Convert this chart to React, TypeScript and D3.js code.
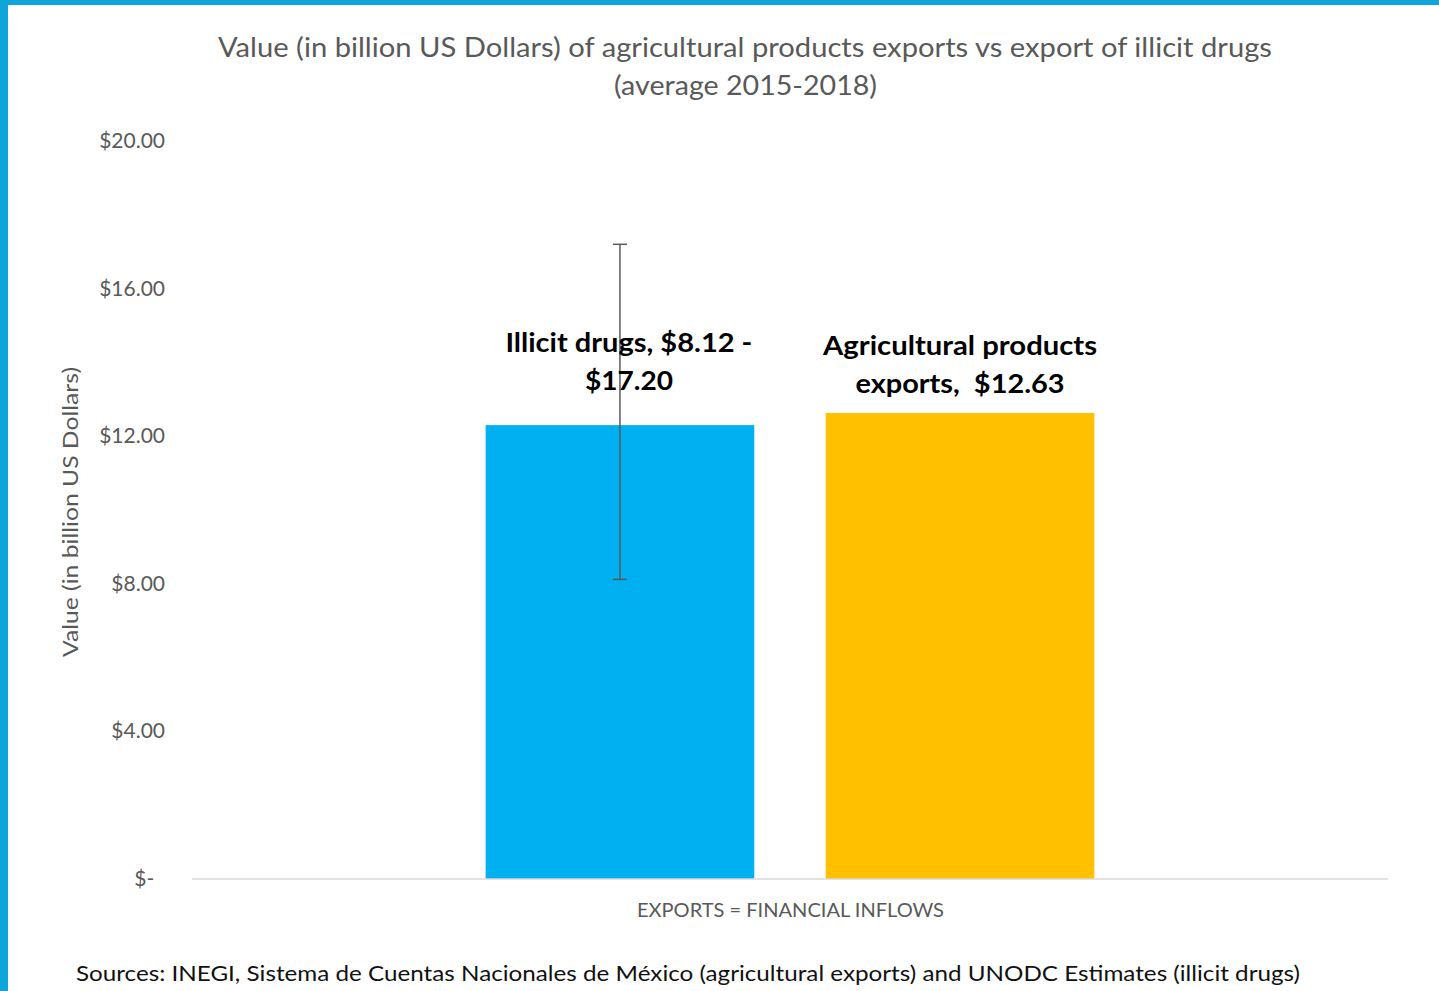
import React from "react";
import * as d3 from "d3";

const categories = ["Illicit drugs", "Agricultural products exports"];
const barValues = [12.3, 12.63];
const errorLow = [8.12, null];
const errorHigh = [17.2, null];
const labelLines = [
  ["Illicit drugs, $8.12 -", "$17.20"],
  ["Agricultural products", "exports,  $12.63"],
];
const barColors = ["#00B0F0", "#FFC000"];
const yTicks = [0, 4, 8, 12, 16, 20];
const tickLabels = ["$-  ", "$4.00", "$8.00", "$12.00", "$16.00", "$20.00"];
const titleLines = [
  "Value (in billion US Dollars) of agricultural products exports vs export of illicit drugs",
  "(average 2015-2018)",
];
const yAxisTitle = "Value (in billion US Dollars)";
const xAxisTitle = "EXPORTS = FINANCIAL INFLOWS";
const sourceText =
  "Sources: INEGI, Sistema de Cuentas Nacionales de México (agricultural exports) and UNODC Estimates (illicit drugs)";

const W = 1439;
const H = 991;
const FONT = "Lato, 'Open Sans', sans-serif";
const GRAY = "#595959";

export default function App() {
  const x = d3
    .scaleBand<string>()
    .domain(categories)
    .range([192, 1388])
    .paddingInner(0.21)
    .paddingOuter(0.8634);
  const y = d3.scaleLinear().domain([0, 20]).range([879, 141]);
  const bw = x.bandwidth();
  const labelDx = [9, 0];
  const labelGap = [35, 20];
  const labelWidths = [
    [247, 88],
    [274, 209],
  ];

  return (
    <svg
      width={W}
      height={H}
      style={{ position: "absolute", left: 0, top: 0, background: "#fff" }}
      fontFamily={FONT}
    >
      <rect x={0} y={0} width={W} height={H} fill="#fff" />
      {/* title */}
      <text x={745} y={57} textAnchor="middle" fontSize={27} fill={GRAY} textLength={1054} lengthAdjust="spacingAndGlyphs">
        {titleLines[0]}
      </text>
      <text x={745.5} y={95} textAnchor="middle" fontSize={27} fill={GRAY} textLength={263} lengthAdjust="spacingAndGlyphs">
        {titleLines[1]}
      </text>

      {/* y tick labels */}
      {yTicks.map((t, i) => (
        <text key={t} x={165} y={y(t) + 7} textAnchor="end" fontSize={21} fill={GRAY} style={{ whiteSpace: "pre" }}>
          {tickLabels[i]}
        </text>
      ))}

      {/* y axis title */}
      <text
        transform={`translate(78, 512) rotate(-90)`}
        textAnchor="middle"
        fontSize={22}
        fill={GRAY}
        textLength={290}
        lengthAdjust="spacingAndGlyphs"
      >
        {yAxisTitle}
      </text>

      {/* bars */}
      {categories.map((c, i) => (
        <rect key={c} x={x(c)} y={y(barValues[i])} width={bw} height={y(0) - y(barValues[i])} fill={barColors[i]} />
      ))}

      {/* baseline */}
      <line x1={192} x2={1388} y1={y(0)} y2={y(0)} stroke="#D9D9D9" strokeWidth={1.5} />

      {/* error bars */}
      {categories.map((c, i) => {
        const lo = errorLow[i];
        const hi = errorHigh[i];
        if (lo == null || hi == null) return null;
        const cx = (x(c) as number) + bw / 2;
        return (
          <g key={c} stroke={GRAY} strokeWidth={1.5}>
            <line x1={cx} x2={cx} y1={y(hi)} y2={y(lo)} />
            <line x1={cx - 7} x2={cx + 7} y1={y(hi)} y2={y(hi)} />
            <line x1={cx - 7} x2={cx + 7} y1={y(lo)} y2={y(lo)} />
          </g>
        );
      })}

      {/* data labels */}
      {categories.map((c, i) => {
        const cx = (x(c) as number) + bw / 2 + labelDx[i];
        const base = y(barValues[i]) - labelGap[i];
        const lines = labelLines[i];
        return lines.map((ln, j) => (
          <text
            key={c + j}
            x={cx}
            y={base - (lines.length - 1 - j) * 38}
            textAnchor="middle"
            fontSize={27}
            fontWeight="bold"
            fill="#000"
            textLength={labelWidths[i][j]}
            lengthAdjust="spacingAndGlyphs"
            style={{ whiteSpace: "pre" }}
          >
            {ln}
          </text>
        ));
      })}

      {/* x axis title */}
      <text x={790.5} y={917} textAnchor="middle" fontSize={19} fill={GRAY} textLength={307} lengthAdjust="spacingAndGlyphs">
        {xAxisTitle}
      </text>

      {/* sources */}
      <text x={688} y={981} textAnchor="middle" fontSize={22} fill="#111" textLength={1224} lengthAdjust="spacingAndGlyphs">
        {sourceText}
      </text>

      {/* frame */}
      <rect x={0} y={0} width={W} height={5} fill="#0FA5D9" />
      <rect x={0} y={0} width={8} height={H} fill="#0FA5D9" />
    </svg>
  );
}
